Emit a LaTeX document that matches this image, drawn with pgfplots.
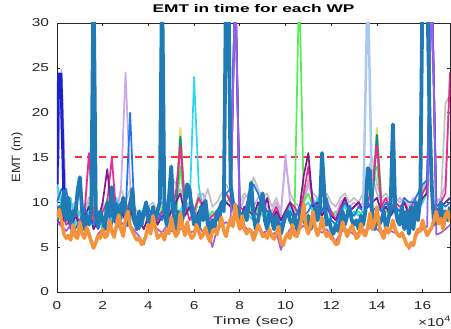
\documentclass[border=0pt]{standalone}
\usepackage{pgfplots}
\usepackage{pgfplotstable}
\pgfplotsset{compat=1.18}
\usepackage{fontspec}
\setmainfont[FakeStretch=1.35]{Liberation Sans}
\newfontfamily\widefont[FakeStretch=1.55]{Liberation Sans}
\newfontfamily\plainfont[FakeStretch=1.08]{Liberation Sans}
\definecolor{cred}{HTML}{FF3030}
\definecolor{mblue}{HTML}{1F7AB5}
\definecolor{morange}{HTML}{F5923A}
\definecolor{cpu}{HTML}{9A5CF0}
\definecolor{cpk}{HTML}{EE2A8C}
\definecolor{cgr}{HTML}{55EE55}
\definecolor{cgy}{HTML}{C0C0C0}
\definecolor{ccy}{HTML}{2ED8EE}
\definecolor{cli}{HTML}{C9A8F2}
\definecolor{cbb}{HTML}{1C78E8}
\definecolor{cdp}{HTML}{7E1A8E}
\definecolor{cye}{HTML}{EEDC6A}
\definecolor{cte}{HTML}{128C8C}
\definecolor{clb}{HTML}{A9C8F2}
\definecolor{cdb}{HTML}{1A22CC}
\definecolor{axgray}{HTML}{262626}
\pgfplotstableread{
x b o
0.0 8.0 8.3
0.1 9.5 9.2
0.2 8.5 8.0
0.3 11.3 6.5
0.4 8.0 6.0
0.5 10.5 6.3
0.6 7.5 5.8
0.7 9.0 7.5
0.8 8.5 6.2
0.9 11.2 6.0
1.0 12.8 7.8
1.1 9.0 6.5
1.2 7.0 6.0
1.3 8.5 7.2
1.4 7.5 6.4
1.5 9.2 5.6
1.6 35 4.9
1.7 8.5 5.5
1.8 7.2 6.3
1.9 9.0 6.0
2.0 8.0 7.0
2.1 7.0 6.1
2.2 10.0 6.3
2.3 8.5 8.0
2.4 11.7 6.8
2.5 8.0 6.1
2.6 9.8 7.4
2.7 7.5 8.6
2.8 9.2 7.0
2.9 10.5 6.2
3.0 8.5 8.2
3.1 7.5 9.0
3.2 9.5 7.4
3.3 11.5 6.8
3.4 8.0 6.2
3.5 7.0 5.8
3.6 9.0 6.0
3.7 7.5 5.3
3.8 8.8 5.6
3.9 10.0 6.4
4.0 8.0 7.5
4.1 7.2 6.5
4.2 9.5 8.5
4.3 8.0 7.2
4.4 9.0 6.0
4.5 10.0 6.3
4.6 35 6.5
4.7 9.0 5.8
4.8 7.5 7.0
4.9 10.5 6.5
5.0 14.0 8.3
5.1 8.5 7.0
5.2 7.0 6.2
5.3 9.0 6.6
5.4 7.5 8.8
5.5 8.2 7.3
5.6 10.0 6.3
5.7 12.0 7.8
5.8 11.5 6.5
5.9 9.0 6.0
6.0 7.5 6.3
6.1 8.5 7.5
6.2 7.0 6.8
6.3 9.5 6.0
6.4 8.0 6.4
6.5 10.2 7.2
6.6 7.5 6.2
6.7 6.5 5.6
6.8 8.0 6.8
6.9 7.2 7.0
7.0 9.0 6.4
7.1 8.0 7.5
7.2 10.0 8.3
7.3 9.0 6.8
7.4 35 6.2
7.5 35 7.4
7.6 12.0 8.2
7.7 10.0 7.3
7.8 8.5 9.8
7.9 9.5 8.0
8.0 7.5 7.0
8.1 8.5 8.5
8.2 9.0 7.0
8.3 8.0 6.5
8.4 10.0 7.0
8.5 12.2 6.8
8.6 8.5 5.8
8.7 7.0 6.5
8.8 8.0 7.5
8.9 9.5 7.0
9.0 11.0 6.2
9.1 8.0 6.4
9.2 7.0 6.0
9.3 9.0 7.0
9.4 8.0 6.2
9.5 7.0 5.9
9.6 8.5 6.5
9.7 7.5 7.3
9.8 6.5 5.5
9.9 7.5 5.2
10.0 8.5 6.1
10.1 9.0 6.5
10.2 8.0 6.0
10.3 7.5 7.5
10.4 8.5 6.3
10.5 7.0 6.2
10.6 8.0 7.0
10.7 9.0 8.0
10.8 8.0 9.8
10.9 7.5 7.2
11.0 8.5 6.5
11.1 7.0 7.4
11.2 8.0 9.0
11.3 9.5 7.2
11.4 8.0 6.3
11.5 9.0 7.0
11.6 15.5 8.3
11.7 11.0 6.8
11.8 7.5 6.2
11.9 8.0 6.6
12.0 7.0 6.0
12.1 6.5 5.8
12.2 7.5 5.3
12.3 6.8 5.4
12.4 8.0 6.5
12.5 9.0 7.8
12.6 7.5 7.0
12.7 8.5 6.2
12.8 9.5 6.8
12.9 8.0 7.4
13.0 7.5 6.8
13.1 8.0 6.0
13.2 7.0 6.2
13.3 8.5 7.6
13.4 7.5 6.5
13.5 9.0 6.3
13.6 13.8 7.2
13.7 13.5 8.8
13.8 8.0 7.0
13.9 7.0 7.8
14.0 8.5 9.5
14.1 7.5 7.4
14.2 8.0 6.5
14.3 9.0 6.0
14.4 7.0 7.2
14.5 8.0 6.6
14.6 9.5 7.0
14.7 18.7 8.0
14.8 9.5 7.0
14.9 8.0 6.4
15.0 7.5 6.2
15.1 9.5 6.6
15.2 7.0 6.0
15.3 9.0 5.3
15.4 6.5 5.0
15.5 9.5 5.5
15.6 7.0 5.2
15.7 10.0 6.4
15.8 8.0 7.0
15.9 10.5 6.8
16.0 35 8.0
16.1 35 7.0
16.2 35 6.3
16.3 20.0 6.8
16.4 12.0 7.2
16.5 7.5 8.0
16.6 9.0 9.0
16.7 8.0 7.6
16.8 10.0 8.2
16.9 7.5 7.0
17.0 9.0 8.6
17.1 8.0 9.0
17.2 9.5 7.8
}\maintab
\pgfplotstableread{
x pu pk gr gy cy li bb dp
0.0 7.8 8.5 9.0 11.8 12.0 9.5 10.0 8.0
0.2 7.3 9.0 8.0 10.5 9.5 24.8 11.5 7.5
0.4 6.8 7.5 9.5 11.0 8.0 9.0 11.5 9.0
0.6 7.5 8.0 7.5 9.5 10.5 8.0 8.5 7.0
0.8 6.6 9.5 8.5 10.0 7.5 10.0 7.0 8.5
1.0 7.0 7.0 9.0 8.5 9.0 11.0 8.0 7.5
1.2 6.4 8.5 7.5 9.0 8.0 9.0 9.5 8.5
1.4 6.8 15.5 10.0 15.0 9.0 10.5 8.0 9.5
1.6 5.0 8.0 8.0 9.5 7.0 11.0 7.5 7.0
1.8 6.5 7.0 9.0 8.0 8.5 8.5 9.0 8.0
2.0 7.0 9.0 7.5 10.0 7.0 9.5 8.0 10.0
2.2 7.4 10.0 10.5 9.0 9.5 8.0 9.0 13.7
2.4 6.6 15.0 8.0 11.0 8.0 9.5 7.5 8.5
2.6 7.0 8.5 9.5 9.0 10.5 8.5 9.0 7.5
2.8 7.8 9.5 8.0 11.5 8.0 11.5 10.0 9.0
3.0 7.3 8.0 10.0 10.0 9.0 24.5 8.5 8.0
3.2 7.5 10.5 9.0 11.5 8.5 12.0 20.0 9.5
3.4 6.8 8.0 7.5 9.5 7.5 9.0 8.0 7.5
3.6 6.2 7.0 8.5 8.5 8.0 8.0 7.0 8.0
3.8 5.3 9.0 7.0 9.0 9.5 8.5 8.5 7.0
4.0 7.0 8.0 8.5 9.5 8.0 9.5 9.5 8.5
4.2 7.4 9.5 9.0 10.0 7.5 8.0 8.0 9.0
4.4 7.0 8.0 7.5 9.0 8.5 9.0 9.0 7.5
4.6 6.6 9.0 9.5 10.0 9.0 10.0 8.0 8.5
4.8 7.4 7.5 8.0 9.5 7.5 9.0 9.5 8.0
5.0 6.8 9.0 9.5 13.0 10.0 10.0 12.5 9.0
5.2 6.6 11.0 8.0 12.0 8.0 10.5 9.0 10.0
5.4 7.0 16.3 14.0 13.5 9.0 11.5 8.0 11.0
5.6 7.3 10.0 9.0 10.5 10.5 9.5 10.0 8.5
5.8 6.6 8.0 9.5 11.5 9.0 10.0 11.0 9.5
6.0 6.8 9.0 8.0 9.0 24.0 8.5 9.0 8.0
6.2 7.4 10.5 10.5 11.0 12.0 10.5 8.0 9.0
6.4 6.6 9.5 9.0 10.0 8.5 11.0 9.5 10.0
6.6 7.0 8.0 8.0 11.5 9.0 9.0 8.0 8.0
6.8 5.0 8.5 9.0 9.5 7.5 8.0 7.0 7.5
7.0 7.0 9.0 8.5 10.0 8.5 9.0 9.0 8.5
7.2 7.4 10.0 9.5 11.0 9.0 10.0 10.0 9.0
7.4 7.8 11.0 10.0 12.0 10.0 11.0 11.0 10.0
7.6 7.4 10.0 10.5 11.0 9.5 10.5 11.5 9.5
7.8 35 35 35 35 35 35 35 35
8.0 7.0 9.5 8.5 10.0 8.0 9.0 9.0 8.0
8.2 7.3 9.0 9.0 11.0 9.5 10.5 8.5 9.5
8.4 6.8 10.5 10.0 10.5 8.5 11.0 11.0 9.0
8.6 6.6 9.0 8.0 12.8 8.0 9.5 12.0 8.5
8.8 7.0 8.5 9.5 11.5 10.0 10.5 11.0 10.0
9.0 6.6 10.0 8.5 10.5 9.0 11.0 9.5 9.0
9.2 6.8 9.0 9.0 11.0 8.5 9.5 9.0 10.5
9.4 6.4 8.5 8.0 9.5 8.0 9.0 8.5 8.0
9.6 6.7 9.5 9.5 10.5 9.0 10.0 8.0 9.0
9.8 4.7 8.0 8.0 9.0 7.5 8.5 7.5 8.0
10.0 6.2 9.0 9.0 14.5 8.5 15.3 8.5 9.0
10.2 7.0 10.0 8.5 11.0 9.5 10.0 9.0 10.0
10.4 6.6 9.5 9.0 10.0 8.0 9.0 8.0 8.5
10.6 7.0 8.5 35 9.5 9.0 8.5 9.5 9.0
10.8 7.4 11.0 10.0 10.5 9.5 10.0 8.5 13.0
11.0 7.0 14.0 11.0 12.5 10.0 12.0 9.0 15.5
11.2 7.4 10.0 9.5 11.0 9.0 10.5 10.0 9.5
11.4 7.0 9.5 9.0 10.5 10.5 9.5 9.5 10.0
11.6 6.6 9.0 8.5 10.0 9.0 9.0 9.0 8.5
11.8 7.0 10.0 9.5 11.0 8.5 10.5 10.5 9.5
12.0 6.4 9.0 8.5 10.0 8.0 9.0 8.0 8.5
12.2 5.6 8.0 9.0 9.5 7.5 8.5 7.5 8.0
12.4 6.6 9.5 8.0 10.5 9.0 10.0 9.0 9.0
12.6 7.0 10.5 10.0 11.0 9.5 10.5 10.0 10.5
12.8 6.8 9.0 9.0 10.0 8.5 9.5 9.0 9.0
13.0 6.4 9.5 8.5 10.5 9.0 10.0 8.5 9.5
13.2 6.6 10.0 9.0 10.0 8.5 9.5 9.5 10.0
13.4 6.8 9.0 8.5 11.0 9.0 10.0 9.0 9.0
13.6 7.0 10.0 11.0 13.5 9.5 12.0 10.0 9.5
13.8 7.3 12.0 13.0 15.0 10.0 13.0 9.0 10.0
14.0 7.0 16.3 14.0 12.0 10.5 11.0 9.5 10.5
14.2 6.6 9.5 9.5 10.5 9.0 10.0 9.0 9.0
14.4 7.0 10.5 9.0 11.0 9.5 10.5 10.0 9.5
14.6 6.8 9.0 8.5 10.0 8.5 9.5 9.0 8.5
14.8 6.6 10.0 9.5 10.5 9.0 10.0 9.5 9.5
15.0 6.4 9.5 9.0 10.0 8.5 10.5 9.0 9.0
15.2 6.0 10.0 8.5 10.5 9.0 10.0 10.5 10.0
15.4 4.8 9.0 8.0 9.5 8.0 9.0 10.0 8.5
15.6 5.6 10.0 9.0 10.5 9.5 10.5 10.0 9.5
15.8 6.6 9.5 9.5 10.0 9.0 10.0 11.0 9.0
16.0 7.0 11.0 10.0 11.5 10.0 11.0 12.0 10.5
16.2 7.3 12.0 11.5 12.5 11.0 12.0 12.5 11.0
16.4 35 35 35 35 35 35 35 35
16.6 6.4 9.5 9.0 10.5 9.0 10.0 9.5 9.0
16.8 6.6 10.0 9.5 10.0 9.5 10.5 10.0 9.5
17.0 7.0 11.0 10.0 21.0 10.0 12.0 9.5 10.0
17.2 7.5 24.5 10.5 22.0 10.5 24.0 10.0 10.5
}\thintab
\begin{document}
\begin{tikzpicture}
\begin{axis}[
  scale only axis, width=393bp, height=269bp,
  xmin=0, xmax=17.2, ymin=0, ymax=30,
  xtick={0,2,...,16}, ytick={0,5,...,30},
  tick align=inside, major tick length=3.5bp,
  axis line style={axgray, line width=0.6bp},
  every tick/.style={axgray, line width=0.6bp},
  tick label style={font=\fontsize{11.5}{13}\selectfont, text=axgray},
  xticklabel style={anchor=center, yshift=-13.5bp},
  yticklabel style={anchor=east, xshift=-4.5bp},
  /pgf/number format/assume math mode=true,
  title={\widefont\bfseries EMT in time for each WP},
  title style={font=\fontsize{11.2}{13}\selectfont, at={(axis description cs:0.5,1)}, anchor=center, yshift=9bp},
  xlabel={\widefont Time (sec)},
  xlabel style={font=\fontsize{11.2}{13}\selectfont, text=axgray, at={(axis description cs:0.5,0)}, anchor=center, yshift=-30bp},
  unbounded coords=jump,
  every axis plot/.append style={line join=round},
]
\addplot[draw=cred, color=cred, line width=2bp, dash pattern=on 7bp off 5bp, forget plot] coordinates {(0.8,15) (17.2,15)};
\addplot[cgy, line width=1.7bp] table[x=x, y=gy] {\thintab};
\addplot[cli, line width=1.7bp] table[x=x, y=li] {\thintab};
\addplot[cgr, line width=1.7bp] table[x=x, y=gr] {\thintab};
\addplot[ccy, line width=1.7bp] table[x=x, y=cy] {\thintab};
\addplot[cye, line width=2bp] coordinates {(5.2,9) (5.4,18.3) (5.6,9) (5.8,nan) (13.8,10) (14.0,18.3) (14.2,10)};
\addplot[cte, line width=2bp] coordinates {(5.2,9) (5.4,17.3) (5.6,9) (5.8,nan) (13.8,10) (14.0,17.5) (14.2,9.5)};
\addplot[cpk, line width=1.7bp] table[x=x, y=pk] {\thintab};
\addplot[cdp, line width=1.7bp] table[x=x, y=dp] {\thintab};
\addplot[cbb, line width=1.7bp] table[x=x, y=bb] {\thintab};
\addplot[cpu, line width=1.7bp] table[x=x, y=pu] {\thintab};
\addplot[clb, line width=2.5bp] coordinates {(13.4,9) (13.6,35) (13.8,9)};
\addplot[cdb, line width=3bp] coordinates {(0,12) (0.07,24.3) (0.17,24.3) (0.3,11)};
\addplot[mblue, line width=3.8bp] table[x=x, y=b] {\maintab};
\addplot[morange, line width=3.5bp] table[x=x, y=o] {\maintab};
\end{axis}
\node[rotate=90, anchor=center, text=axgray, inner sep=0pt, font=\fontsize{12}{14}\selectfont\plainfont] at (-40bp,134.5bp) {EMT (m)};
\node[anchor=base east, font=\fontsize{11.5}{13}\selectfont, text=axgray, inner sep=0pt] at (394bp,-34bp) {×10\textsuperscript{4}};
\pgfresetboundingbox
\path[use as bounding box] (-57bp,-37bp) rectangle (394bp,292bp);
\end{tikzpicture}
\end{document}
